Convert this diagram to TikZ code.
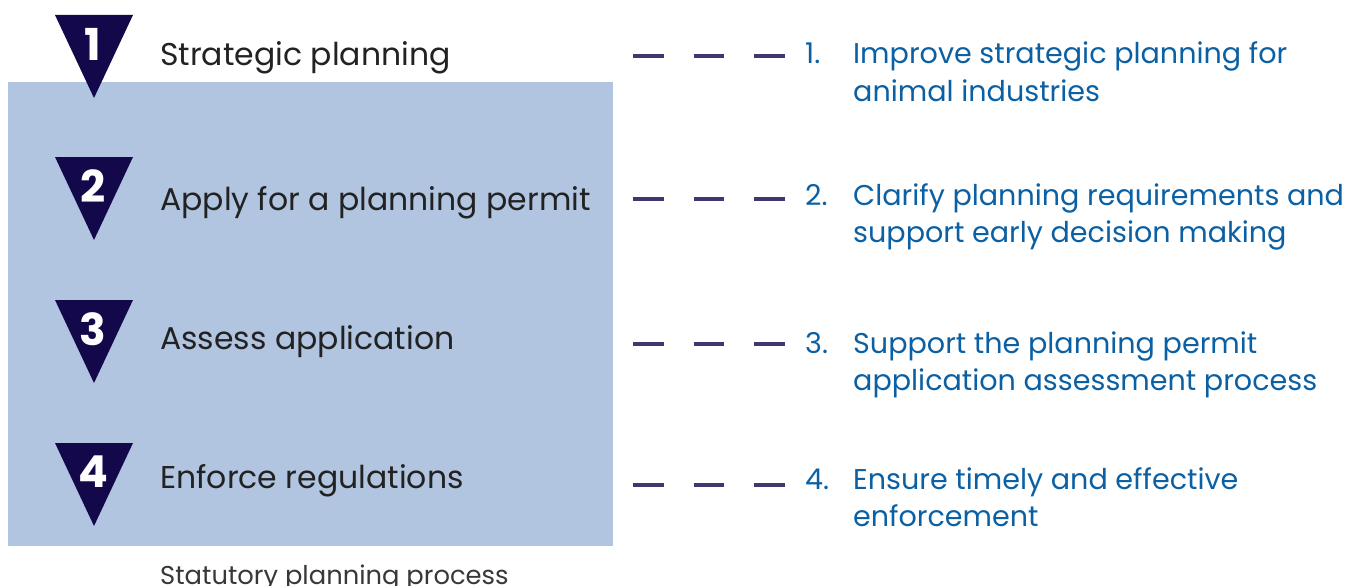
\documentclass[tikz,border=0pt]{standalone}
\usepackage{fontspec}
\setmainfont{Poppins}
\definecolor{navy}{HTML}{13094A}
\definecolor{dashc}{HTML}{3D3870}
\definecolor{panel}{HTML}{B1C5E1}
\definecolor{bluetxt}{HTML}{0B60A4}
\definecolor{darktxt}{HTML}{222222}
\tikzset{
  steplabel/.style={anchor=base west, inner sep=0pt, text=darktxt, font=\fontsize{31.5}{33}\selectfont},
  numlabel/.style={inner sep=0pt, text=white, font=\bfseries\fontsize{44}{44}\selectfont},
  tri/.style={fill=navy, draw=none},
  dashline/.style={draw=dashc, line width=4pt, dash pattern=on 30.5pt off 30pt},
  goalnum/.style={anchor=base west, inner sep=0pt, text=bluetxt, font=\fontsize{28.6}{37}\selectfont},
  goaltext/.style={anchor=base west, inner sep=0pt, text=bluetxt},
}
\newcommand{\goalbox}[2]{\parbox[t]{520pt}{\raggedright\fontsize{28.6}{37}\selectfont #1\\#2}}
\begin{document}
\begin{tikzpicture}[x=1pt,y=-1pt]
\useasboundingbox (0,0) rectangle (1347,586);
\fill[panel] (8,82) rectangle (613,546);
% triangles
\foreach \t/\n in {15/1,157/2,300/3,443/4}{
  \fill[tri] (55,\t) -- (133,\t) -- (94,\t+83) -- cycle;
  \node[numlabel] (num\n) at (93,\t+29) {\n};
}
% left labels
\node[steplabel] (s1) at (160,66) {Strategic planning};
\node[steplabel] (s2) at (160,210) {Apply for a planning permit};
\node[steplabel] (s3) at (160,349) {Assess application};
\node[steplabel] (s4) at (160,488) {Enforce regulations};
\node[anchor=base west, inner sep=0pt, text=darktxt!90, font=\fontsize{25.8}{27}\selectfont] (cap) at (160,584) {Statutory planning process};
% dashes
\foreach \y/\n in {56/1,199/2,344/3,485/4}{
  \coordinate (da\n) at (633,\y);
  \coordinate (db\n) at (785,\y);
  \draw[dashline] (da\n) -- (db\n);
}
% goals
\node[goalnum] (g1n) at (805,64) {1.};
\node[goaltext] (g1) at (853,64) {\goalbox{Improve strategic planning for}{animal industries}};
\node[goalnum] (g2n) at (805,205) {2.};
\node[goaltext] (g2) at (853,205) {\goalbox{Clarify planning requirements and}{support early decision making}};
\node[goalnum] (g3n) at (805,353) {3.};
\node[goaltext] (g3) at (853,353) {\goalbox{Support the planning permit}{application assessment process}};
\node[goalnum] (g4n) at (805,489) {4.};
\node[goaltext] (g4) at (853,489) {\goalbox{Ensure timely and effective}{enforcement}};
\end{tikzpicture}
\end{document}
